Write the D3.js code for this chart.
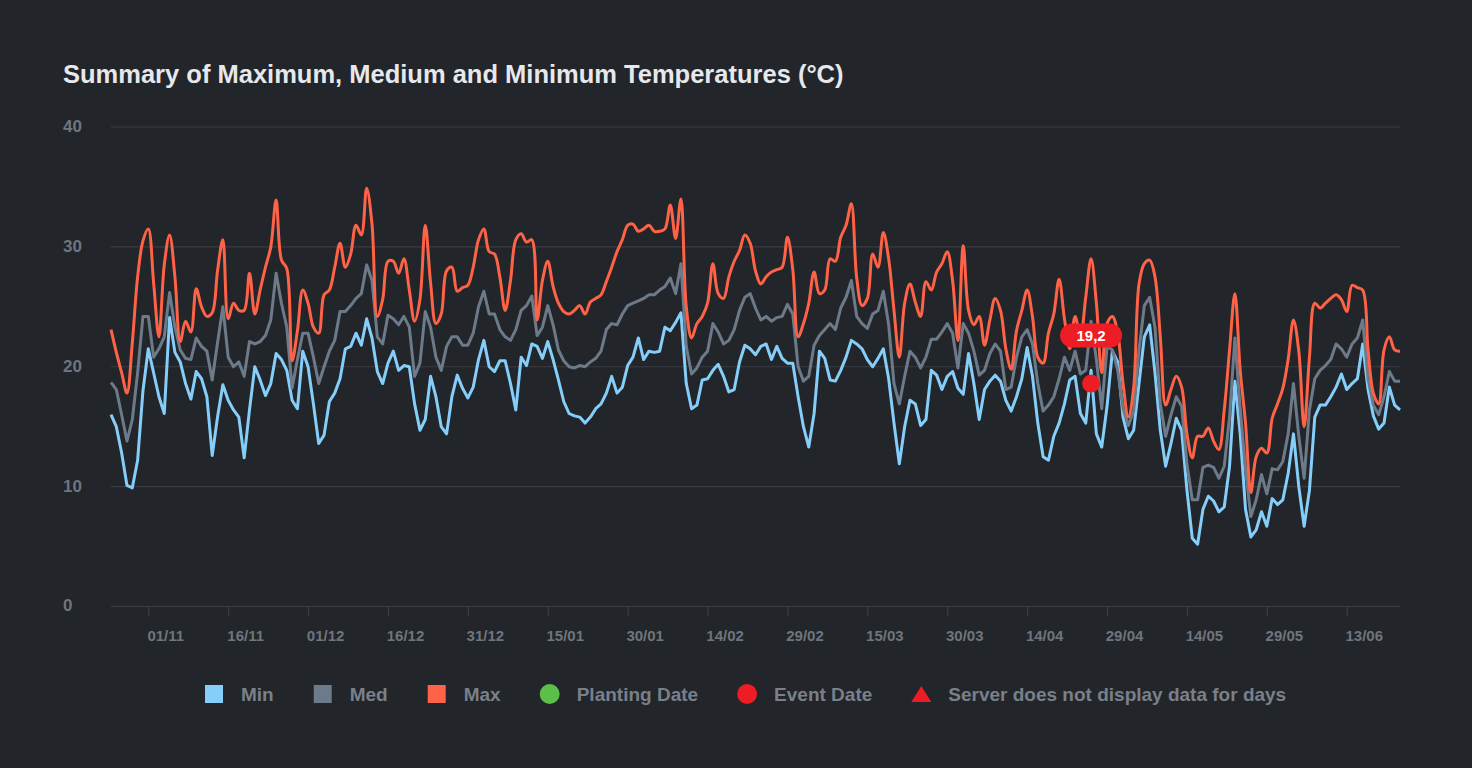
<!DOCTYPE html>
<html>
<head>
<meta charset="utf-8">
<script src="https://cdn.jsdelivr.net/npm/d3@7"></script>
<style>
  body { margin: 0; background: #222529; }
  svg { display: block; font-family: "Liberation Sans", Arial, Helvetica, sans-serif; }
</style>
</head>
<body>
<div id="chart"></div>
<script>
// Size of the whole picture
var svgWidth = 1472;
var svgHeight = 768;

// Plot area margins
var margin = { top: 127, right: 72, bottom: 161.5, left: 111 };
var width = svgWidth - margin.left - margin.right;
var height = svgHeight - margin.top - margin.bottom;

// Series start on this day, one reading per day
var startDate = "2023-10-25";

var minTemps = [16.0, 15.0, 12.8, 10.1, 9.9, 12.2, 18.0, 21.5, 19.5, 17.5,
  16.1, 24.1, 21.2, 20.4, 18.6, 17.3, 19.6, 19.0, 17.5, 12.6,
  15.8, 18.5, 17.2, 16.4, 15.8,
  12.4, 16.4, 20.0, 18.9, 17.6, 18.6, 21.1, 20.6, 19.7, 17.2,
  16.5, 21.3, 20.0, 16.9, 13.6, 14.3, 17.1, 17.8, 19.0, 21.5,
  21.7, 22.8, 21.8, 24.0,
  22.4, 19.6, 18.6, 20.3, 21.3, 19.7, 20.1, 20.0, 16.9, 14.7,
  15.6, 19.2, 17.5, 15.0, 14.4, 17.5, 19.3, 18.2, 17.4, 18.3,
  20.6, 22.2, 20.0, 19.6, 20.5,
  20.5, 18.6, 16.4, 20.8, 20.1, 21.9, 21.7, 20.7, 22.1, 20.6,
  18.9, 17.1, 16.1, 15.9, 15.8, 15.3, 15.8, 16.5, 16.9, 17.8,
  19.2, 17.8, 18.3, 20.1,
  20.8, 22.4, 20.6, 21.3, 21.2, 21.3, 23.3, 23.0, 23.7, 24.5,
  18.6, 16.5, 16.8, 18.9, 19.0, 19.7, 20.2, 19.2, 17.9, 18.1,
  20.4, 21.8, 21.5, 21.0, 21.7,
  21.9, 20.6, 21.7, 20.7, 20.3, 20.3, 17.5, 15.0, 13.3, 16.1,
  21.3, 20.7, 18.9, 18.8, 19.7, 20.8, 22.2, 21.9, 21.5, 20.6,
  20.0, 20.7, 21.5, 19.0,
  15.3, 11.9, 15.0, 17.2, 16.9, 15.1, 15.6, 19.7, 19.3, 18.1,
  19.2, 19.6, 18.2, 17.7, 21.1, 18.6, 15.6, 18.1, 18.8, 19.3,
  18.8, 17.2, 16.3, 17.5,
  19.0, 21.6, 19.2, 15.3, 12.5, 12.2, 14.2, 15.3, 16.9, 18.9,
  19.2, 16.1, 15.3, 19.7, 14.4, 13.3, 16.7, 21.3, 20.4, 15.8,
  14.0, 14.7, 18.6, 22.5, 23.5,
  19.5, 14.7, 11.7, 13.6, 15.7, 14.7, 9.7, 5.7, 5.2, 8.1,
  9.2, 8.8, 7.9, 8.3, 11.7, 18.8, 14.4, 8.1, 5.8, 6.4,
  7.9, 6.7, 9.0, 8.5,
  8.9, 11.1, 14.4, 10.0, 6.7, 9.7, 15.8, 16.8, 16.8, 17.5,
  18.3, 19.4, 18.1, 18.6, 19.0, 21.9, 18.1, 15.9, 14.8, 15.3,
  18.3, 16.8, 16.4];

var medTemps = [18.7, 18.1, 16.0, 13.8, 15.6, 19.5, 24.2, 24.2, 20.8, 21.5,
  22.5, 26.2, 23.3, 21.4, 20.7, 20.6, 22.4, 21.7, 21.3, 18.9,
  22.0, 25.0, 20.8, 20.0, 20.4,
  19.2, 22.1, 21.9, 22.1, 22.6, 23.9, 27.8, 25.3, 23.3, 18.2,
  20.6, 22.8, 22.8, 20.8, 18.6, 20.0, 21.3, 22.2, 24.6, 24.6,
  25.1, 25.7, 26.1, 28.5,
  27.2, 22.5, 21.9, 24.3, 24.0, 23.5, 24.2, 23.3, 19.2, 20.3,
  24.6, 23.3, 20.8, 19.7, 21.7, 22.5, 22.5, 21.8, 21.8, 22.8,
  25.0, 26.3, 24.4, 24.4, 23.1,
  22.5, 22.2, 23.1, 24.7, 25.1, 25.9, 22.6, 23.3, 25.1, 23.5,
  21.4, 20.5, 20.0, 19.9, 20.1, 20.0, 20.4, 20.7, 21.3, 23.1,
  23.6, 23.5, 24.4, 25.1,
  25.3, 25.5, 25.7, 26.0, 26.0, 26.4, 26.7, 27.4, 26.1, 28.6,
  21.7, 19.4, 19.9, 20.8, 21.3, 23.6, 22.9, 21.9, 22.2, 23.1,
  24.7, 25.8, 26.1, 24.9, 23.9,
  24.2, 23.8, 24.1, 24.2, 25.2, 24.4, 20.0, 18.8, 19.2, 21.8,
  22.6, 23.1, 23.6, 23.1, 24.9, 25.8, 27.2, 24.2, 23.6, 23.2,
  24.4, 24.7, 26.3, 23.5,
  18.6, 16.9, 19.2, 21.3, 20.8, 19.9, 20.8, 22.3, 22.3, 22.9,
  23.6, 22.8, 19.9, 23.6, 22.8, 21.3, 19.3, 19.7, 21.1, 21.9,
  21.3, 18.1, 18.3, 20.8,
  22.5, 23.1, 21.9, 18.6, 16.3, 16.8, 17.5, 19.0, 20.8, 19.7,
  21.3, 19.4, 19.7, 23.8, 20.6, 16.5, 21.7, 21.4, 19.7, 16.5,
  15.1, 16.3, 21.4, 25.1, 25.8,
  23.3, 16.9, 14.2, 16.0, 17.5, 16.7, 11.9, 8.9, 8.9, 11.6,
  11.8, 11.6, 10.7, 11.7, 15.8, 22.4, 16.5, 11.4, 7.5, 8.9,
  11.0, 9.4, 11.5, 11.4,
  12.1, 14.4, 18.6, 14.2, 10.7, 16.4, 19.0, 19.7, 20.1, 20.6,
  21.9, 21.5, 20.8, 21.9, 22.4, 23.9, 19.0, 16.8, 16.0, 17.5,
  19.6, 18.8, 18.8];

var maxTemps = [23.1, 21.2, 19.5, 17.8, 22.0, 27.5, 30.5, 31.5, 27.0, 22.5,
  28.5, 31.0, 27.5, 22.1, 23.8, 22.9, 26.5, 25.0, 24.2, 24.5,
  28.0, 30.6, 24.0, 25.3, 24.7,
  24.7, 27.8, 24.4, 26.4, 28.3, 30.0, 33.9, 28.9, 28.2, 20.5,
  23.0, 26.4, 25.3, 23.3, 22.8, 26.0, 26.4, 28.3, 30.3, 28.3,
  29.4, 31.8, 31.0, 34.9,
  31.9, 24.2, 25.6, 28.8, 28.8, 27.8, 29.0, 26.4, 23.8, 25.6,
  31.8, 27.0, 23.6, 24.4, 28.0, 28.3, 26.3, 26.6, 26.8, 28.3,
  30.6, 31.5, 29.6, 29.4, 27.5,
  24.7, 27.2, 30.6, 31.1, 30.4, 30.6, 23.9, 27.2, 28.8, 26.7,
  25.3, 24.6, 24.4, 24.7, 25.1, 24.4, 25.4, 25.7, 26.0, 27.1,
  28.3, 29.6, 30.6, 31.8,
  31.9, 31.3, 31.5, 31.8, 31.3, 31.3, 31.5, 33.5, 30.7, 34.0,
  25.0, 22.4, 23.6, 24.2, 25.3, 28.6, 26.1, 25.7, 27.5, 28.8,
  29.7, 31.0, 30.3, 28.0, 26.9,
  27.5, 27.9, 28.1, 28.3, 30.8, 28.1, 22.5, 23.6, 25.3, 27.9,
  26.1, 26.4, 29.0, 28.8, 30.8, 31.8, 33.6, 27.4, 25.1, 25.7,
  29.4, 28.3, 31.2, 29.0,
  24.7, 20.8, 25.3, 26.9, 25.4, 24.2, 27.1, 26.4, 27.9, 28.6,
  29.6, 27.2, 22.2, 30.1, 24.7, 23.5, 24.2, 21.8, 23.9, 25.7,
  24.7, 21.5, 19.8, 23.0,
  24.7, 26.4, 24.2, 20.8, 20.3, 22.8, 24.4, 27.3, 24.0, 21.5,
  24.2, 22.5, 25.8, 29.0, 25.3, 19.5, 23.6, 24.2, 22.8, 18.6,
  15.8, 18.3, 26.9, 28.6, 28.9,
  27.5, 22.5, 16.8, 18.1, 19.2, 18.3, 14.4, 12.4, 14.2, 14.2,
  14.9, 13.8, 13.1, 16.4, 21.4, 26.1, 19.7, 15.3, 9.5, 12.5,
  13.2, 12.8, 15.7, 16.9,
  18.2, 20.6, 23.9, 21.3, 15.0, 20.8, 25.3, 24.9, 25.3, 25.7,
  26.0, 25.6, 24.6, 26.8, 26.6, 26.4, 21.4, 17.8, 16.9, 21.4,
  22.5, 21.4, 21.3];

// Axis ticks
var yTicks = [0, 10, 20, 30, 40];
var xTickDates = ["2023-11-01", "2023-11-16", "2023-12-01", "2023-12-16", "2023-12-31",
  "2024-01-15", "2024-01-30", "2024-02-14", "2024-02-29", "2024-03-15", "2024-03-30",
  "2024-04-14", "2024-04-29", "2024-05-14", "2024-05-29", "2024-06-13"];

// The single event marked on the chart
var eventDate = "2024-04-26";
var eventValue = 18.6;
var eventLabel = "19,2";

// Legend entries
var legendNames = ["Min", "Med", "Max", "Planting Date", "Event Date", "Server does not display data for days"];
var legendShapes = ["square", "square", "square", "circle", "circle", "triangle"];
var legendColors = ["#86cefa", "#6c7a89", "#ff6347", "#5bbf4a", "#ee1c24", "#ee1c24"];

var parseDate = d3.utcParse("%Y-%m-%d");
var fmtTick = d3.utcFormat("%d/%m");

// Build the daily rows
var start = parseDate(startDate);
var data = minTemps.map(function(v, i) {
  return { date: d3.utcDay.offset(start, i), min: v, med: medTemps[i], max: maxTemps[i] };
});

var svg = d3.select("#chart")
  .append("svg")
  .attr("width", svgWidth)
  .attr("height", svgHeight);

svg.append("rect")
  .attr("width", svgWidth)
  .attr("height", svgHeight)
  .attr("fill", "#222529");

var chartGroup = svg.append("g")
  .attr("transform", `translate(${margin.left}, ${margin.top})`);

var xScale = d3.scaleUtc()
  .domain(d3.extent(data, d => d.date))
  .range([0, width]);

var yScale = d3.scaleLinear()
  .domain([0, 40])
  .range([height, 0]);

// Title
svg.append("text")
  .attr("x", 63)
  .attr("y", 83)
  .attr("fill", "#e6e8ec")
  .attr("font-size", 25.5)
  .attr("font-weight", "bold")
  .text("Summary of Maximum, Medium and Minimum Temperatures (°C)");

// Horizontal grid
chartGroup.append("g")
  .selectAll("line")
  .data(yTicks)
  .enter()
  .append("line")
  .attr("x1", 0)
  .attr("x2", width)
  .attr("y1", d => yScale(d))
  .attr("y2", d => yScale(d))
  .attr("stroke", "#3a3d42")
  .attr("stroke-width", 1.2);

// Y labels
svg.append("g")
  .selectAll("text")
  .data(yTicks)
  .enter()
  .append("text")
  .attr("x", 63)
  .attr("y", d => margin.top + yScale(d) - 1)
  .attr("dy", "0.35em")
  .attr("fill", "#6f757d")
  .attr("font-size", 17)
  .attr("font-weight", "bold")
  .text(d => d);

// X axis ticks and labels
var xAxis = d3.axisBottom(xScale)
  .tickValues(xTickDates.map(parseDate))
  .tickFormat(fmtTick)
  .tickSize(10)
  .tickPadding(14);

var xAxisGroup = chartGroup.append("g")
  .attr("transform", `translate(0, ${height})`)
  .call(xAxis);

xAxisGroup.select(".domain").remove();
xAxisGroup.selectAll("line").attr("stroke", "#3a3d42").attr("stroke-width", 1.2);
xAxisGroup.selectAll("text")
  .attr("fill", "#6f757d")
  .attr("font-size", 15)
  .attr("font-weight", "bold")
  .attr("font-family", "Liberation Sans, Arial, sans-serif")
  .attr("dx", 17);

// Lines
var lineMin = d3.line().x(d => xScale(d.date)).y(d => yScale(d.min));
var lineMed = d3.line().x(d => xScale(d.date)).y(d => yScale(d.med));
var lineMax = d3.line().x(d => xScale(d.date)).y(d => yScale(d.max)).curve(d3.curveCatmullRom.alpha(0.5));

chartGroup.append("path").datum(data)
  .attr("d", lineMin).attr("fill", "none")
  .attr("stroke", legendColors[0]).attr("stroke-width", 3).attr("stroke-linejoin", "round");

chartGroup.append("path").datum(data)
  .attr("d", lineMed).attr("fill", "none")
  .attr("stroke", legendColors[1]).attr("stroke-width", 3).attr("stroke-linejoin", "round");

chartGroup.append("path").datum(data)
  .attr("d", lineMax).attr("fill", "none")
  .attr("stroke", legendColors[2]).attr("stroke-width", 3).attr("stroke-linejoin", "round");

// Event marker with its label
var ex = xScale(parseDate(eventDate));
var ey = yScale(eventValue);

chartGroup.append("circle")
  .attr("cx", ex).attr("cy", ey).attr("r", 9)
  .attr("fill", "#ee1c24");

var pill = chartGroup.append("g").attr("transform", `translate(${ex}, ${ey - 48})`);
pill.append("rect")
  .attr("x", -31).attr("y", -12).attr("width", 62).attr("height", 24).attr("rx", 12)
  .attr("fill", "#ee1c24");
pill.append("text")
  .attr("text-anchor", "middle").attr("dy", "0.36em")
  .attr("fill", "#ffffff").attr("font-size", 15).attr("font-weight", "bold")
  .text(eventLabel);

// Legend
var legend = svg.append("g").attr("transform", "translate(205, 694)");
var lx = 0;
legendNames.forEach(function(name, i) {
  var item = legend.append("g").attr("transform", `translate(${lx}, 0)`);
  if (legendShapes[i] == "square") {
    item.append("rect").attr("x", 0).attr("y", -9).attr("width", 18).attr("height", 18).attr("fill", legendColors[i]);
  } else if (legendShapes[i] == "circle") {
    item.append("circle").attr("cx", 9).attr("cy", 0).attr("r", 10).attr("fill", legendColors[i]);
  } else {
    item.append("path").attr("d", "M9,-8L19,8L-1,8Z").attr("fill", legendColors[i]);
  }
  var t = item.append("text")
    .attr("x", 36)
    .attr("dy", "0.35em")
    .attr("fill", "#7a8089")
    .attr("font-size", 19)
    .attr("font-weight", "bold")
    .text(name);
  lx += 36 + t.node().getComputedTextLength() + 40;
});
</script>
</body>
</html>
